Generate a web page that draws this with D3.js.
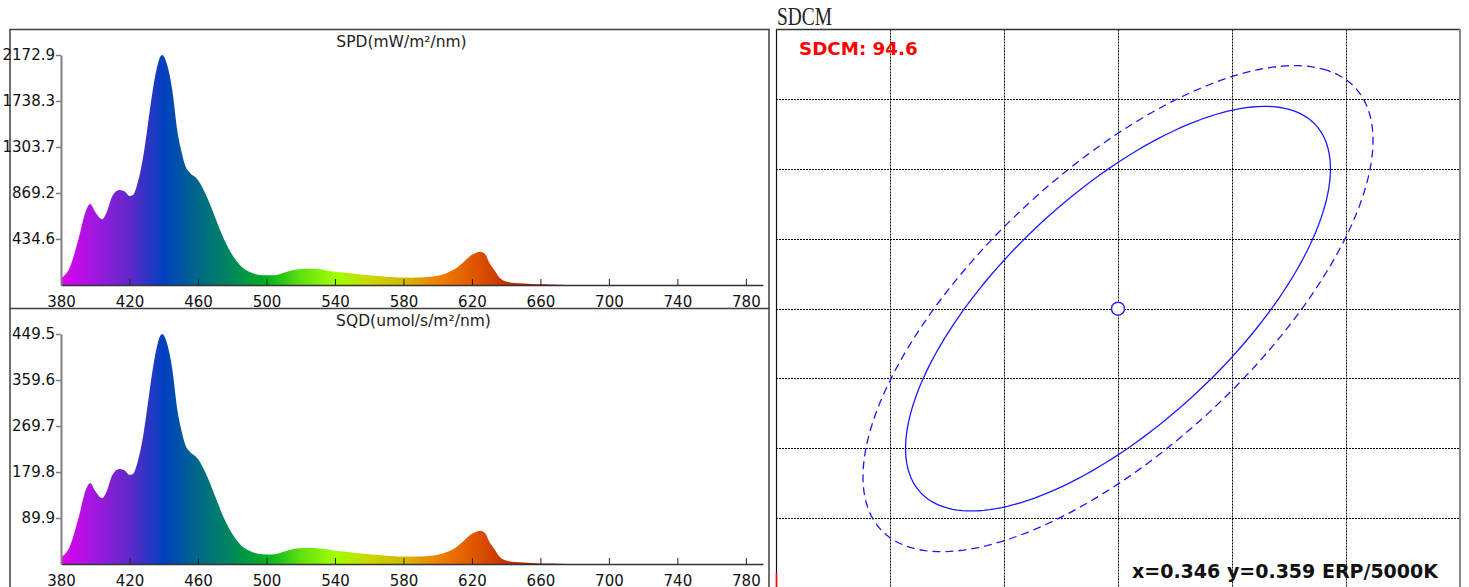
<!DOCTYPE html>
<html>
<head>
<meta charset="utf-8">
<script src="https://cdn.jsdelivr.net/npm/d3@7"></script>
<style>
  body { margin: 0; background: #fff; }
  svg { display: block; }
</style>
</head>
<body>
<svg id="chart"></svg>
<script>
// spectrum samples (nm)
const wavelengths = [380, 385, 390, 395, 397, 400, 404, 407, 410, 414, 417, 420, 422, 425, 428, 430, 433, 435, 439, 442,
  445, 448, 450, 453, 455, 460, 465, 470, 475, 480, 485, 490, 495, 500, 505, 510, 515, 520, 525, 530,
  535, 540, 545, 550, 555, 560, 565, 570, 575, 580, 585, 590, 595, 600, 605, 610, 615, 620, 625, 628,
  630, 633, 636, 640, 645, 650, 655, 660, 665, 670, 675, 680, 700, 780];
// SPD, mW/m2/nm
const spdValues = [63, 160, 420, 720, 765, 690, 622, 700, 840, 897, 885, 842, 850, 980, 1212, 1430, 1779, 1975, 2172.9, 2080,
  1840, 1450, 1285, 1110, 1065, 992, 840, 640, 440, 285, 180, 125, 97, 91, 93, 115, 140, 150, 154, 150,
  138, 125, 117, 108, 100, 92, 84, 78, 73, 70, 69, 70, 78, 88, 112, 150, 215, 285, 315, 285,
  215, 145, 72, 33, 18, 15, 9, 6, 4, 3, 1, 0, 0, 0];
// SQD, umol/s/m2/nm
const sqdValues = [13.0, 33.1, 86.9, 149.0, 158.3, 142.8, 128.7, 144.8, 173.8, 185.6, 183.1, 174.2, 175.9, 202.8, 250.8, 295.9, 368.1, 408.6, 449.5, 430.4,
  380.7, 300.0, 265.9, 229.7, 220.3, 205.2, 173.8, 132.4, 91.0, 59.0, 37.2, 25.9, 20.1, 18.8, 19.2, 23.8, 29.0, 31.0, 31.9, 31.0,
  28.6, 25.9, 24.2, 22.3, 20.7, 19.0, 17.4, 16.1, 15.1, 14.5, 14.3, 14.5, 16.1, 18.2, 23.2, 31.0, 44.5, 59.0, 65.2, 59.0,
  44.5, 30.0, 14.9, 6.8, 3.7, 3.1, 1.9, 1.2, 0.8, 0.6, 0.2, 0, 0, 0];

const xTicks = [380, 420, 460, 500, 540, 580, 620, 660, 700, 740, 780];
const spdTicks = [434.6, 869.2, 1303.7, 1738.3, 2172.9];
const sqdTicks = [89.9, 179.8, 269.7, 359.6, 449.5];

// SDCM panel
const pointX = 0.346, pointY = 0.359;
const sdcmValue = 94.6;
const refName = 'ERP/5000K';
const gridX = [0.338, 0.342, 0.346, 0.350, 0.354];
const gridY = [0.347, 0.351, 0.355, 0.359, 0.363, 0.367, 0.371];
const ellipseA = [0.0129, 0.0155];
const ellipseB = [0.00484, 0.0058];
const ellipseAngle = 61.7;

// spectral colours for the fill
const stopNm = [380, 400, 420, 440, 460, 480, 500, 520, 540, 560, 580, 600, 620, 640, 660, 700, 780];
const stopColor = ['#e000f0', '#a018e0', '#6028c8', '#0040c0', '#006888', '#00885a', '#00b020', '#60e010', '#a0ff00',
  '#c8d800', '#d4b800', '#f08000', '#e05a00', '#c83000', '#b01000', '#900000', '#800000'];

const svgWidth = 1469, svgHeight = 587;
const font = 'DejaVu Sans, Verdana, sans-serif';
const svg = d3.select('#chart')
  .attr('width', svgWidth)
  .attr('height', svgHeight);

const xScale = d3.scaleLinear().domain([380, 790]).range([61, 763]);

const grad = svg.append('defs').append('linearGradient')
  .attr('id', 'spec')
  .attr('gradientUnits', 'userSpaceOnUse')
  .attr('x1', xScale(380)).attr('x2', xScale(780))
  .attr('y1', 0).attr('y2', 0);
grad.selectAll('stop')
  .data(stopNm)
  .enter()
  .append('stop')
  .attr('offset', d => (d - 380) / 400)
  .attr('stop-color', (d, i) => stopColor[i]);

// left panel frame
svg.append('rect')
  .attr('x', 10).attr('y', 29.5)
  .attr('width', 759).attr('height', 600)
  .attr('fill', 'none').attr('stroke', '#404040').attr('stroke-width', 1.5);
svg.append('line')
  .attr('x1', 10).attr('x2', 769)
  .attr('y1', 308.5).attr('y2', 308.5)
  .attr('stroke', '#404040').attr('stroke-width', 1.5);

function spectrum(values, ticks, base, top, title, titleX) {
  const yScale = d3.scaleLinear()
    .domain([0, ticks[ticks.length - 1]])
    .range([base, top]);

  const area = d3.area()
    .x((d, i) => xScale(wavelengths[i]))
    .y0(yScale(0))
    .y1(d => yScale(d))
    .curve(d3.curveMonotoneX);

  svg.append('path')
    .datum(values)
    .attr('d', area)
    .attr('fill', 'url(#spec)');

  const gx = svg.append('g')
    .attr('transform', `translate(0, ${base})`)
    .call(d3.axisBottom(xScale).tickValues(xTicks).tickSize(-6).tickSizeOuter(0).tickPadding(11));
  gx.select('.domain').attr('stroke', '#333').attr('stroke-width', 1.5);
  gx.selectAll('.tick line').attr('stroke', '#222');
  gx.selectAll('text').attr('font-family', font).attr('font-size', 15).attr('fill', '#111');

  const gy = svg.append('g')
    .attr('transform', `translate(${xScale(380)}, 0)`)
    .call(d3.axisLeft(yScale).tickValues(ticks).tickSize(5).tickSizeOuter(0).tickPadding(1).tickFormat(d3.format('.1f')));
  gy.select('.domain').attr('stroke', '#808080').attr('stroke-width', 2);
  gy.selectAll('.tick line').attr('stroke', '#808080').attr('stroke-width', 1.5);
  gy.selectAll('text').attr('font-family', font).attr('font-size', 15).attr('fill', '#111');

  svg.append('text')
    .attr('x', titleX).attr('y', top - 8)
    .attr('text-anchor', 'middle')
    .attr('font-family', font).attr('font-size', 15.5).attr('fill', '#222')
    .text(title);
}

spectrum(spdValues, spdTicks, 285, 55, 'SPD(mW/m²/nm)', 401.5);
spectrum(sqdValues, sqdTicks, 564, 334, 'SQD(umol/s/m²/nm)', 413.5);

// SDCM panel
const cieX = d3.scaleLinear().domain([0.334, 0.358]).range([776, 1460]);
const cieY = d3.scaleLinear().domain([0.343, 0.375]).range([588, 29.3]);

svg.append('text')
  .attr('x', 777).attr('y', 25)
  .attr('font-family', 'Liberation Serif, serif').attr('font-size', 26)
  .attr('textLength', 55).attr('lengthAdjust', 'spacingAndGlyphs')
  .attr('fill', '#222')
  .text('SDCM');

const grid = svg.append('g')
  .attr('stroke', '#000').attr('stroke-width', 1).attr('stroke-dasharray', '2,1');
grid.selectAll('.vx')
  .data(gridX)
  .enter()
  .append('line')
  .attr('x1', d => Math.round(cieX(d)) + 0.5).attr('x2', d => Math.round(cieX(d)) + 0.5)
  .attr('y1', 29.5).attr('y2', 588);
grid.selectAll('.hy')
  .data(gridY)
  .enter()
  .append('line')
  .attr('x1', 776).attr('x2', 1460)
  .attr('y1', d => Math.round(cieY(d)) + 0.5).attr('y2', d => Math.round(cieY(d)) + 0.5);

svg.append('line').attr('x1', 776.5).attr('x2', 776.5).attr('y1', 29).attr('y2', 588)
  .attr('stroke', '#111').attr('stroke-width', 1.2);
svg.append('line').attr('x1', 776).attr('x2', 1460).attr('y1', 29.5).attr('y2', 29.5)
  .attr('stroke', '#333').attr('stroke-width', 1.5);
svg.append('line').attr('x1', 1460).attr('x2', 1460).attr('y1', 29).attr('y2', 588)
  .attr('stroke', '#888').attr('stroke-width', 2);
svg.append('line').attr('x1', 776.5).attr('x2', 776.5).attr('y1', 573).attr('y2', 588)
  .attr('stroke', '#ff0000').attr('stroke-width', 1.5);

const phi = ellipseAngle * Math.PI / 180;
const tSteps = d3.range(0, 360, 2).map(d => d * Math.PI / 180);
const ellipseLine = d3.line()
  .x(d => d[0]).y(d => d[1])
  .curve(d3.curveLinearClosed);

ellipseA.forEach((a, i) => {
  const b = ellipseB[i];
  const pts = tSteps.map(t => [
    cieX(pointX + a * Math.cos(phi) * Math.cos(t) - b * Math.sin(phi) * Math.sin(t)),
    cieY(pointY + a * Math.sin(phi) * Math.cos(t) + b * Math.cos(phi) * Math.sin(t))
  ]);
  svg.append('path')
    .attr('d', ellipseLine(pts))
    .attr('fill', 'none')
    .attr('stroke', '#1a1aff')
    .attr('stroke-width', 1.3)
    .attr('stroke-dasharray', i === 0 ? null : '8,5');
});

svg.append('circle')
  .attr('cx', cieX(pointX)).attr('cy', cieY(pointY))
  .attr('r', 6.5)
  .attr('fill', '#fff').attr('stroke', '#2a2aff').attr('stroke-width', 1.5);

svg.append('text')
  .attr('x', 799).attr('y', 54.5)
  .attr('font-family', font).attr('font-weight', 'bold').attr('font-size', 18.3)
  .attr('fill', '#ff0000')
  .text(`SDCM: ${sdcmValue}`);

svg.append('text')
  .attr('x', 1132).attr('y', 578)
  .attr('font-family', font).attr('font-weight', 'bold').attr('font-size', 19)
  .attr('fill', '#111')
  .text(`x=${pointX} y=${pointY} ${refName}`);
</script>
</body>
</html>
